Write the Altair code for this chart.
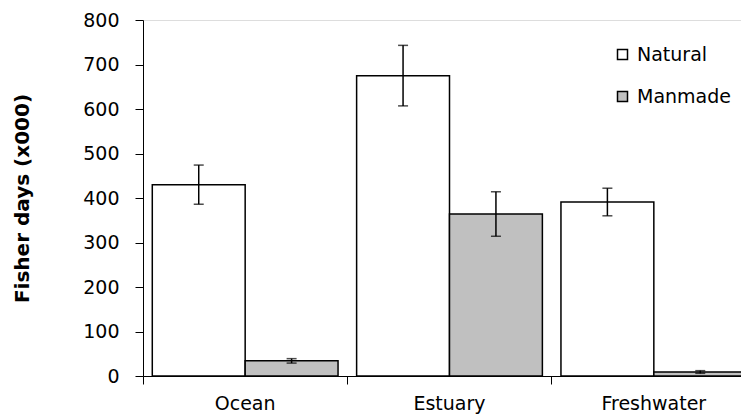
import altair as alt
import pandas as pd

categories = ["Ocean", "Estuary", "Freshwater"]
series = ["Natural", "Manmade"]
natural = [430, 675, 391]
natural_err = [44, 68, 31]
manmade = [34, 364, 9]
manmade_err = [5, 50, 3]
colors = ["#ffffff", "#c0c0c0"]

rows = []
for i, c in enumerate(categories):
    rows.append(dict(cat=c, type="Natural", v=natural[i],
                     lo=natural[i] - natural_err[i], hi=natural[i] + natural_err[i]))
    rows.append(dict(cat=c, type="Manmade", v=manmade[i],
                     lo=manmade[i] - manmade_err[i], hi=manmade[i] + manmade_err[i]))
df = pd.DataFrame(rows)

W = 598          # visible plot width (svg stays inside the window)
XRANGE = 613     # the category axis runs on past the right edge, as in the reference
H = 356
FONT = "DejaVu Sans"
FS = 19

x = alt.X("cat:N", sort=categories,
          scale=alt.Scale(paddingInner=0, paddingOuter=0, range=[0, XRANGE]),
          axis=alt.Axis(title=None, bandPosition=0, tickSize=8,
                        labelPadding=10, labelAngle=0, labelFontSize=FS, labelFont=FONT,
                        labelColor="black", domainColor="black", tickColor="black"))
xo = alt.XOffset("type:N", sort=series,
                 scale=alt.Scale(domain=series, paddingOuter=0.1, paddingInner=0))
y = alt.Y("v:Q", scale=alt.Scale(domain=[0, 800]),
          axis=alt.Axis(title="Fisher days (x000)", values=list(range(0, 801, 100)),
                        grid=False, tickSize=8, labelPadding=16, labelFontSize=FS,
                        labelFont=FONT, labelColor="black", domainColor="black",
                        tickColor="black", titleFont=FONT, titleFontSize=20,
                        titleFontWeight="bold", titleColor="black", titlePadding=50))

bars = alt.Chart(df).mark_bar(stroke="black", strokeWidth=1.5).encode(
    x=x, xOffset=xo, y=y,
    fill=alt.Fill("type:N", sort=series,
                  scale=alt.Scale(domain=series, range=colors),
                  legend=alt.Legend(orient="none", legendX=470, legendY=25, title=None,
                                    symbolType="square", symbolSize=100,
                                    symbolStrokeColor="black", symbolStrokeWidth=1.5,
                                    labelFontSize=FS, labelFont=FONT, labelColor="black",
                                    rowPadding=22, labelOffset=5)),
)

err = alt.Chart(df).mark_rule(color="black", strokeWidth=1.5).encode(
    x=alt.X("cat:N", sort=categories), xOffset=xo, y="lo:Q", y2="hi:Q")
cap_hi = alt.Chart(df).mark_tick(color="black", thickness=1.5, size=10).encode(
    x=alt.X("cat:N", sort=categories), xOffset=xo, y="hi:Q")
cap_lo = alt.Chart(df).mark_tick(color="black", thickness=1.5, size=10).encode(
    x=alt.X("cat:N", sort=categories), xOffset=xo, y="lo:Q")

chart = alt.layer(bars, err, cap_hi, cap_lo).properties(
    width=W, height=H,
    autosize=alt.AutoSizeParams(type="none"),
    padding={"left": 135, "top": 12, "right": 0, "bottom": 40},
).configure_view(stroke=None).configure(background="white")

chart.save("out.html", embed_options={"renderer": "svg", "actions": False})
